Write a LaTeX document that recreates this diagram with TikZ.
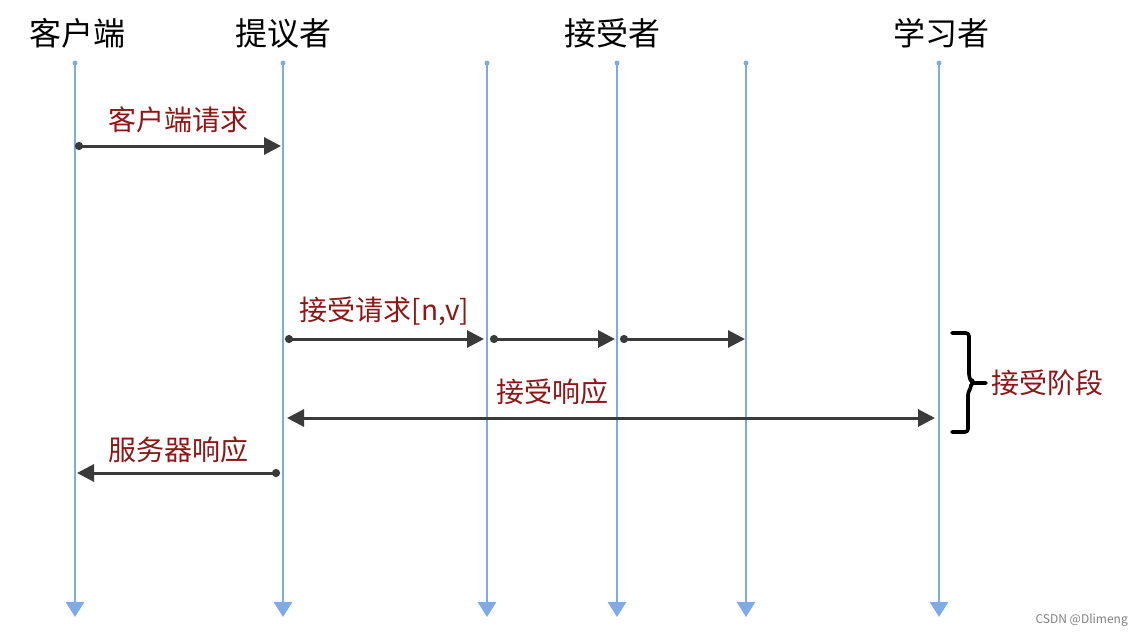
\documentclass[tikz,border=0pt]{standalone}
\usepackage{fontspec}
\setmainfont{Noto Sans CJK SC}
\usetikzlibrary{arrows.meta}
\definecolor{lifeblue}{HTML}{7EAAE6}
\definecolor{msgred}{HTML}{8E1616}
\definecolor{msggray}{HTML}{3A3A3A}
\tikzset{
    lifeline/.style={line width=2.8pt,lifeblue,-{Triangle[length=15pt,width=18pt]}},
    actor/.style={font=\fontsize{32}{32}\selectfont,inner sep=0pt},
    msg/.style={line width=3pt,msggray,{Circle[length=8pt]}-{Triangle[length=17pt,width=17pt]}},
    msglabel/.style={font=\fontsize{28}{28}\selectfont,text=msgred,inner sep=0pt}
}
\begin{document}
\begin{tikzpicture}[x=1pt,y=-1pt]
    \useasboundingbox (0,0) rectangle (1142,637);
    %% actors and lifelines
    \node[actor] (client) at (77,33) {客户端};
    \node[actor] (proposer) at (283,33) {提议者};
    \node[actor] (acceptor) at (612,33) {接受者};
    \node[actor] (learner) at (941,33) {学习者};
    \foreach \n/\x in {cl/75,pr/283,aa/487,ab/617,ac/746,le/939} {
        \coordinate (\n) at (\x,63);
        \coordinate (\n b) at (\x,617);
        \draw[lifeline] (\n) -- (\n b);
        \fill[lifeblue] (\n) circle (2.5pt);
    }
    %% message rows
    \coordinate (row1) at (0,146);
    \coordinate (row2) at (0,339);
    \coordinate (row3) at (0,418);
    \coordinate (row4) at (0,473);
    %% client request
    \draw[msg] (cl|-row1) -- ([xshift=-2pt]pr|-row1)
        node[msglabel,midway,above=12pt] (reqlabel) {客户端请求};
    %% accept request
    \draw[msg] ([xshift=2pt]pr|-row2) -- ([xshift=-3pt]aa|-row2)
        node[msglabel,midway,above=12pt] (acclabel) {接受请求[n,v]};
    \draw[msg] ([xshift=3pt]aa|-row2) -- ([xshift=-2pt]ab|-row2);
    \draw[msg] ([xshift=3pt]ab|-row2) -- ([xshift=-1pt]ac|-row2);
    %% accept response
    \draw[msg,{Triangle[length=17pt,width=17pt]}-{Triangle[length=17pt,width=17pt]}]
        ([xshift=4pt]pr|-row3) -- ([xshift=-4pt]le|-row3)
        node[msglabel,pos=0.41,above=12pt] (resplabel) {接受响应};
    %% server response
    \draw[msg] ([xshift=-3pt]pr|-row4) -- ([xshift=2pt]cl|-row4)
        node[msglabel,midway,above=9pt] (srvlabel) {服务器响应};
    %% accept phase
    \coordinate (phasetop) at (952,333);
    \coordinate (phasebot) at (952,432);
    \coordinate (phasetip) at (986,383);
    \draw[line width=3.6pt,line cap=round,line join=round,rounded corners=3pt]
        (phasetop) -- ++(17,0) -- ++(0,44) -- ++(3,6) |- (phasetip)
        (phasetip) -| ++(-15,5) -- ++(-3,4) |- (phasebot);
    \node[msglabel,anchor=west] (phaselabel) at ([xshift=5pt]phasetip) {接受阶段};
    %% watermark
    \node[font=\fontsize{12}{12}\selectfont,text=gray,anchor=east,inner sep=0pt] (mark) at (1128,620) {CSDN @Dlimeng};
\end{tikzpicture}
\end{document}
